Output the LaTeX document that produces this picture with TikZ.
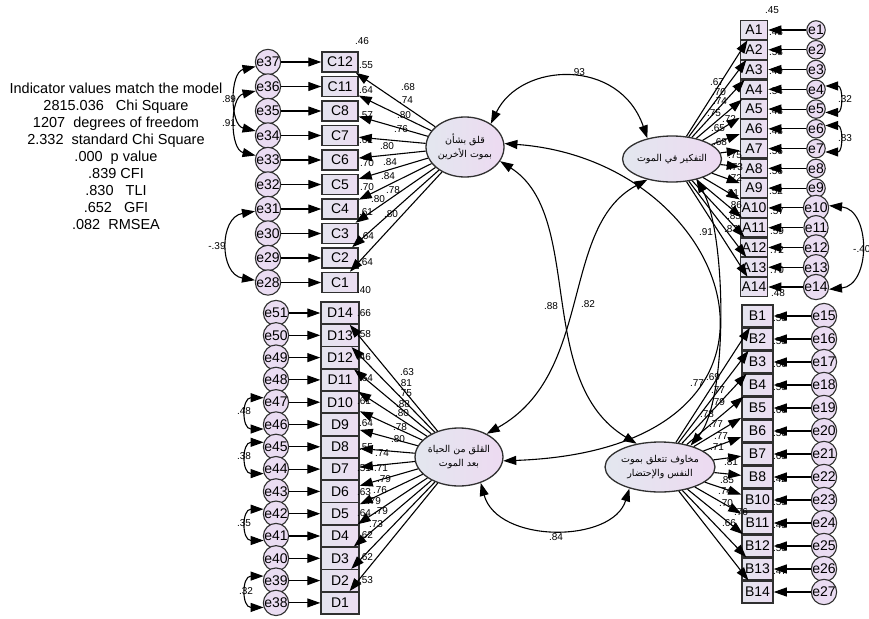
\documentclass[tikz,border=0pt]{standalone}
\usepackage{fontspec}
\setmainfont{Liberation Sans}
\newfontfamily\arabicfont[Script=Arabic]{DejaVu Sans}
\TeXXeTstate=1
\usepackage{tikz}
\usetikzlibrary{arrows.meta, shapes.geometric}
\definecolor{boxleft}{HTML}{E4E4EE}
\definecolor{boxright}{HTML}{ECDDF2}
\definecolor{errfill}{HTML}{EADCF2}
\definecolor{latleft}{HTML}{E3E7EF}
\definecolor{latright}{HTML}{EDDAF1}
\definecolor{frame}{HTML}{303030}

\begin{document}
\begin{tikzpicture}[x=1pt, y=-1pt,
    obs/.style={rectangle, draw=frame, line width=1.5pt, left color=boxleft, right color=boxright, inner sep=0pt, font=\fontsize{14}{14}\selectfont},
    cbox/.style={obs, minimum width=36pt, minimum height=20pt},
    dbox/.style={obs, minimum width=38pt, minimum height=22pt},
    abox/.style={obs, minimum width=27pt, minimum height=19pt},
    bbox/.style={obs, minimum width=31pt, minimum height=22pt},
    err/.style={circle, draw=frame, line width=1.1pt, fill=errfill, inner sep=0pt, font=\fontsize{14}{14}\selectfont},
    errbig/.style={err, minimum size=25pt},
    errmid/.style={err, minimum size=22pt},
    errsmall/.style={err, minimum size=18.5pt},
    latent/.style={ellipse, draw=frame, line width=1.3pt, left color=latleft, right color=latright, inner sep=0pt, align=center, font=\arabicfont\fontsize{9.5}{14}\selectfont},
    arrow/.style={-{Triangle[length=13pt, width=9pt]}, line width=1.1pt},
    cov/.style={{Triangle[length=13pt, width=9pt]}-{Triangle[length=13pt, width=9pt]}, line width=1.1pt},
    num/.style={font=\fontsize{10}{10}\selectfont, inner sep=0pt},
]
\useasboundingbox (0,0) rectangle (869,618);
\fill[white] (0,0) rectangle (869,618);

% Fit indices
\node[align=center, font=\fontsize{14.5}{17}\selectfont] (fit) at (116,156) {Indicator values match the model\\2815.036\ \ \ Chi Square\\1207\ \ degrees of freedom\\2.332\ \ standard Chi Square\\.000\ \ p value\\.839 CFI\\.830\ \ \ TLI\\.652\ \ \ GFI\\.082\ \ RMSEA};

% Latent variables
\node[latent, minimum width=78pt, minimum height=60pt] (others) at (465,147) {\beginR قلق بشأن\endR\\\beginR بموت الأخرين\endR};
\node[latent, minimum width=76pt, minimum height=46pt] (thinking) at (672,159) {\beginR التفكير في الموت\endR};
\node[latent, minimum width=82pt, minimum height=58pt] (afterlife) at (459,457) {\beginR القلق من الحياة\endR\\\beginR بعد الموت\endR};
\node[latent, minimum width=94pt, minimum height=50pt] (selfdeath) at (660,467) {\beginR مخاوف تتعلق بموت\endR\\\beginR النفس والإحتضار\endR};

% Indicators and errors
\foreach \ind/\err [count=\i from 0] in {C12/37, C11/36, C8/35, C7/34, C6/33, C5/32, C4/31, C3/30, C2/29, C1/28} {
  \node[cbox] (\ind) at (340, {62+24.5*\i}) {\ind};
  \node[errmid] (e\err) at (268, {62+24.5*\i}) {e\err};
}
\foreach \ind/\err [count=\i from 0] in {D14/51, D13/50, D12/49, D11/48, D10/47, D9/46, D8/45, D7/44, D6/43, D5/42, D4/41, D3/40, D2/39, D1/38} {
  \node[dbox] (\ind) at (340, {313+22.3*\i}) {\ind};
  \node[errbig] (e\err) at (276, {313+22.3*\i}) {e\err};
}
\foreach \ind/\err [count=\i from 0] in {A1/1, A2/2, A3/3, A4/4, A5/5, A6/6, A7/7, A8/8, A9/9, A10/10, A11/11, A12/12, A13/13, A14/14} {
  \node[abox] (\ind) at (754, {30+19.77*\i}) {\ind};
  \node[errsmall] (e\err) at (816, {30+19.77*\i}) {e\err};
}
\foreach \ind/\err [count=\i from 0] in {B1/15, B2/16, B3/17, B4/18, B5/19, B6/20, B7/21, B8/22, B10/23, B11/24, B12/25, B13/26, B14/27} {
  \node[bbox] (\ind) at (757.5, {316+23*\i}) {\ind};
  \node[errmid] (e\err) at (824, {316+23*\i}) {e\err};
}

% Squared multiple correlations
\foreach \x/\y/\lab [count=\k] in {362/41/.46, 366/65/.55, 366/90/.64, 366/115/.57, 366/140/.61, 367/163/.70, 367/187/.70, 366/212/.61, 367/236/.64, 366/262/.64, 364/290/.40} {
  \node[num] (rc\k) at (\x,\y) {\lab};
}
\foreach \x/\y/\lab [count=\k] in {364/313/.66, 364/334/.58, 364/357/.46, 366/378/.64, 364/401/.61, 366/423/.64, 366/447/.55, 364/468/.51, 364/492/.63, 364/513/.64, 366/535/.62, 366/557/.62, 366/580/.53} {
  \node[num] (rd\k) at (\x,\y) {\lab};
}
\foreach \x/\y/\lab [count=\k] in {772/10/.45, 776/32/.48, 776/52/.58, 776/71/.49, 776/91/.54, 776/111/.48, 776/131/.48, 776/151/.56, 776/171/.56, 776/191/.52, 777/211/.57, 777/231/.59, 777/250/.72, 777/270/.70, 778/293/.48} {
  \node[num] (ra\k) at (\x,\y) {\lab};
}
\foreach \x/\y/\lab [count=\k] in {780/318/.53, 780/341/.55, 780/364/.60, 780/387/.55, 780/410/.60, 780/433/.50, 780/456/.65, 780/479/.42, 780/502/.55, 780/525/.45, 780/548/.53, 780/571/.47} {
  \node[num] (rb\k) at (\x,\y) {\lab};
}

% Loadings
\foreach \x/\y/\lab [count=\k] in {408/87/.68, 406/100/.74, 404/115/.80, 401/129/.76, 387/146/.80, 390/162/.84, 388/176/.84, 393/190/.78, 378/199/.80, 391/214/.80} {
  \node[num] (lc\k) at (\x,\y) {\lab};
}
\foreach \x/\y/\lab [count=\k] in {407/372/.63, 405/383/.81, 405/393/.75, 403/404/.88, 402/413/.80, 400/427/.78, 398/439/.80, 382/453/.74, 381/468/.71, 384/479/.79, 380/490/.76, 374/501/.79, 381/511/.79, 376/524/.73} {
  \node[num] (ld\k) at (\x,\y) {\lab};
}
\foreach \x/\y/\lab [count=\k] in {717/82/.67, 719/92/.70, 720/101/.74, 714/113/.75, 729/119/.72, 718/128/.65, 720/142/.68, 735/155/.75, 736/167/.73, 735/178/.72, 732/193/.81, 735/205/.86, 734/216/.85, 731/229/.87} {
  \node[num] (la\k) at (\x,\y) {\lab};
}
\foreach \x/\y/\lab [count=\k] in {713/377/.69, 718/390/.77, 718/402/.79, 707/414/.78, 716/424/.77, 721/436/.77, 717/447/.71, 731/462/.81, 727/480/.85, 725/491/.74, 726/503/.70, 741/512/.76, 729/523/.66} {
  \node[num] (lb\k) at (\x,\y) {\lab};
}

% Correlation labels
\node[num] (r1) at (578,72) {.93};
\node[num] (r2) at (706,232) {.91};
\node[num] (r3) at (551,306) {.88};
\node[num] (r4) at (588,304) {.82};
\node[num] (r5) at (697,383) {.77};
\node[num] (r6) at (556,537) {.84};
\node[num] (r7) at (229,99) {.89};
\node[num] (r8) at (229,123) {.91};
\node[num] (r9) at (217,246) {-.39};
\node[num] (r10) at (244,411) {.48};
\node[num] (r11) at (244,456) {.38};
\node[num] (r12) at (244,523) {.35};
\node[num] (r13) at (246,591) {.32};
\node[num] (r14) at (845,99) {.32};
\node[num] (r15) at (845,138) {.83};
\node[num, anchor=west] (r16) at (853,249) {-.40};

% Arrows: errors to indicators
\foreach \ind/\err in {C12/37, C11/36, C8/35, C7/34, C6/33, C5/32, C4/31, C3/30, C2/29, C1/28, D14/51, D13/50, D12/49, D11/48, D10/47, D9/46, D8/45, D7/44, D6/43, D5/42, D4/41, D3/40, D2/39, D1/38, A1/1, A2/2, A3/3, A4/4, A5/5, A6/6, A7/7, A8/8, A9/9, A10/10, A11/11, A12/12, A13/13, A14/14, B1/15, B2/16, B3/17, B4/18, B5/19, B6/20, B7/21, B8/22, B10/23, B11/24, B12/25, B13/26, B14/27}
  \draw[arrow] (e\err) -- (\ind);

% Arrows: latents to indicators
\foreach \ind in {C12, C11, C8, C7, C6, C5, C4, C3, C2, C1}
  \draw[arrow] (others) -- (\ind);
\foreach \ind in {D14, D13, D12, D11, D10, D9, D8, D7, D6, D5, D4, D3, D2, D1}
  \draw[arrow] (afterlife) -- (\ind);
\foreach \ind in {A1, A2, A3, A4, A5, A6, A7, A8, A9, A10, A11, A12, A13, A14}
  \draw[arrow] (thinking) -- (\ind);
\foreach \ind in {B1, B2, B3, B4, B5, B6, B7, B8, B10, B11, B12, B13, B14}
  \draw[arrow] (selfdeath) -- (\ind);

% Covariances between latents
\draw[cov] (others.42) .. controls +(30,-62) and +(-28,-81) .. (thinking.140);
\draw[cov] (others.5) .. controls +(236,17) and +(329,-12) .. (afterlife.355);
\draw[cov] (others.338) .. controls +(85,54) and +(-103,-62) .. (selfdeath.135);
\draw[cov] (thinking.220) .. controls +(-88,47) and +(108,-60) .. (afterlife.40);
\draw[cov] (thinking.320) .. controls +(30,54) and +(38,-45) .. (selfdeath.35);
\draw[cov] (afterlife.310) .. controls +(17,61) and +(-17,55) .. (selfdeath.215);

% Covariances between errors
\draw[cov] (e37.200) .. controls +(-26,6) and +(-26,-6) .. (e34.160);
\draw[cov] (e36.200) .. controls +(-26,6) and +(-26,-6) .. (e33.160);
\draw[cov] (e31.190) .. controls +(-36,6) and +(-36,-6) .. (e28.170);
\draw[cov] (e47.160) .. controls +(-22,0) and +(-22,0) .. (e46.200);
\draw[cov] (e45.160) .. controls +(-22,0) and +(-22,0) .. (e44.200);
\draw[cov] (e42.160) .. controls +(-22,0) and +(-22,0) .. (e41.200);
\draw[cov] (e39.160) .. controls +(-22,0) and +(-22,0) .. (e38.200);
\draw[cov] (e4.20) .. controls +(18,0) and +(18,0) .. (e5.340);
\draw[cov] (e6.20) .. controls +(18,0) and +(18,0) .. (e7.340);
\draw[cov] (e10.10) .. controls +(42,4) and +(42,-4) .. (e14.350);
\end{tikzpicture}
\end{document}
